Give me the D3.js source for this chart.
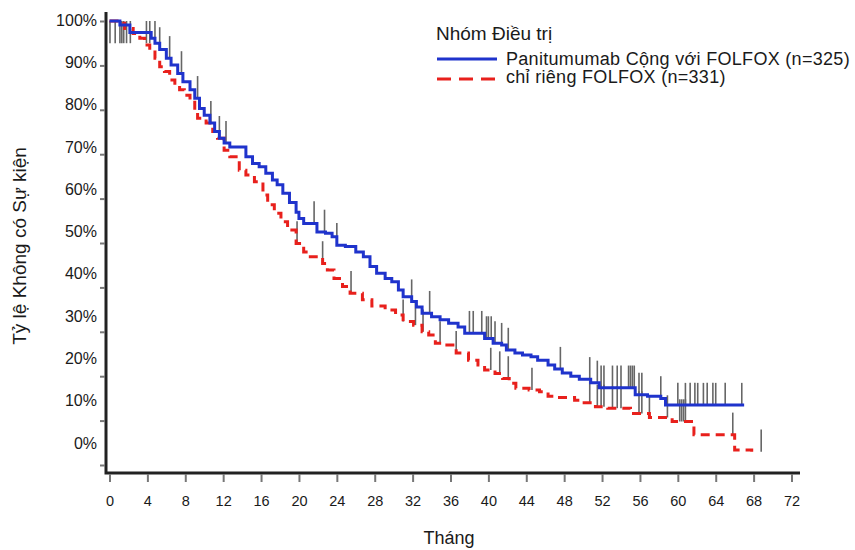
<!DOCTYPE html>
<html>
<head>
<meta charset="utf-8">
<script src="https://cdn.jsdelivr.net/npm/d3@7"></script>
<style>
  html, body { margin: 0; padding: 0; background: #fff; }
  svg { display: block; font-family: "Liberation Sans", Arial, sans-serif; }
</style>
</head>
<body>
<svg id="chart" width="855" height="550"></svg>
<script>
// ---------- DATA ----------
const xTickValues = [0, 4, 8, 12, 16, 20, 24, 28, 32, 36, 40, 44, 48, 52, 56, 60, 64, 68, 72];
const yTickValues = [0, 10, 20, 30, 40, 50, 60, 70, 80, 90, 100];
const yTickLabels = ["0%", "10%", "20%", "30%", "40%", "50%", "60%", "70%", "80%", "90%", "100%"];

const seriesNames = ["Panitumumab Cộng với FOLFOX (n=325)", "chỉ riêng FOLFOX (n=331)"];

// Panitumumab + FOLFOX (months, % event-free)
const blueT = [0, 1.1, 2.15, 4.4, 4.8, 5.3, 6.0, 6.5, 7.2, 7.75, 8.5, 9.0, 9.5, 10.0, 10.6, 11.1, 11.6, 12.1, 12.7, 14.4,
  15.1, 15.8, 16.5, 17.2, 17.7, 18.3, 19.0, 19.7, 20.0, 20.5, 21.9, 22.8, 23.5, 24.0, 24.9, 26.0, 26.8, 27.5, 28.2, 29.1,
  29.8, 30.5, 31.0, 31.9, 32.4, 33.0, 34.0, 34.9, 35.8, 36.8, 37.5, 39.6, 40.5, 41.4, 41.9, 42.8, 43.6, 44.5, 45.2, 46.3,
  47.0, 47.8, 48.7, 49.6, 50.8, 51.7, 55.5, 56.8, 58.2, 58.7, 67.0];
const blueS = [100, 99.1, 97.4, 96.1, 95.0, 93.6, 91.6, 90.1, 88.2, 86.3, 84.5, 82.6, 80.3, 78.8, 77.0, 75.1, 73.6, 72.5, 71.6, 69.4,
  67.9, 67.2, 65.7, 64.2, 63.1, 61.2, 59.1, 56.9, 55.5, 54.4, 52.5, 52.2, 51.4, 49.5, 49.2, 48.0, 46.9, 44.7, 43.2, 42.0,
  41.3, 39.4, 37.9, 36.8, 35.6, 34.2, 33.4, 32.7, 31.9, 31.1, 29.7, 28.5, 27.4, 27.0, 25.9, 25.2, 24.8, 24.4, 23.6, 22.5,
  21.6, 20.7, 20.0, 19.3, 18.5, 17.4, 15.8, 15.5, 15.0, 13.5, 13.5];
const blueCensor = [0.05, 0.6, 1.1, 1.3, 1.5, 1.8, 2.2, 3.9, 4.25, 4.8, 5.3, 6.35, 7.6, 9.3, 10.7, 11.6, 12.3, 21.6, 22.7, 24.0,
  31.9, 33.8, 38.0, 38.4, 39.3, 39.8, 40.0, 40.3, 40.7, 41.4, 42.1, 47.6, 50.7, 51.5, 51.9, 52.2, 53.1, 53.6, 54.0, 54.8,
  55.0, 55.2, 55.4, 55.9, 56.2, 58.2, 60.0, 60.8, 61.3, 61.8, 62.1, 62.7, 63.1, 63.7, 64.0, 65.0, 66.75];

// FOLFOX alone
const redT = [0, 1.1, 1.6, 2.5, 3.2, 3.7, 4.25, 4.8, 5.3, 5.8, 6.35, 6.9, 7.4, 7.9, 8.5, 9.0, 9.3, 10.2, 10.9, 11.4,
  12.1, 12.7, 13.7, 14.4, 15.3, 16.2, 16.7, 17.4, 18.1, 18.8, 19.7, 20.5, 21.2, 22.5, 23.0, 23.7, 24.6, 25.4, 26.7, 27.7,
  29.1, 30.2, 31.0, 32.1, 33.0, 33.7, 34.4, 35.4, 36.6, 37.9, 38.9, 39.6, 40.7, 41.5, 42.2, 42.9, 44.3, 45.4, 46.3, 47.3,
  49.1, 49.9, 51.3, 52.6, 55.0, 57.0, 59.4, 61.7, 66.0, 67.8];
const redS = [100, 99.5, 98.3, 97.2, 96.1, 94.6, 93.5, 91.6, 89.7, 88.6, 86.7, 85.6, 84.5, 83.3, 82.2, 79.9, 78.1, 77.0, 75.1, 73.6,
  70.9, 69.4, 66.4, 65.3, 63.8, 60.8, 58.6, 56.7, 54.8, 52.9, 49.9, 48.0, 46.9, 45.4, 43.9, 42.0, 40.2, 38.7, 37.2, 35.8,
  34.9, 33.8, 32.3, 31.5, 30.0, 29.3, 27.4, 27.0, 25.2, 23.6, 22.5, 21.4, 20.6, 19.5, 18.4, 17.3, 16.9, 16.5, 15.5, 15.2,
  14.6, 14.0, 13.1, 12.8, 11.6, 10.7, 9.8, 6.8, 3.4, 3.0];
const redCensor = [19.8, 22.5, 25.5, 31.0, 32.3, 33.1, 34.9, 36.6, 40.25, 41.2, 42.1, 44.6, 50.7, 51.5, 51.9, 52.2, 53.1, 53.6,
  54.0, 55.9, 56.2, 57.0, 58.9, 60.2, 60.4, 60.6, 60.8, 65.8, 68.8];

// ---------- CHART ----------
const svg = d3.select("#chart");
svg.append("rect").attr("width", 855).attr("height", 550).attr("fill", "#fff");

const x = d3.scaleLinear().domain([0, 72]).range([109.5, 791.5]);
const y = d3.scaleLinear().domain([0, 100]).range([465, 21]);
const yLab = d3.scaleLinear().domain([0, 100]).range([443, 20]);

const blue = "#1f33cc", red = "#e8201c", censorColor = "#666";

// axes lines
svg.append("path")
  .attr("d", "M106,12V473H800")
  .attr("fill", "none").attr("stroke", "#222").attr("stroke-width", 3);

// y tick marks
const yTicks = svg.append("g").attr("transform", "translate(105,0)")
  .call(d3.axisLeft(y).tickValues(yTickValues).tickFormat("").tickSize(5));
yTicks.select(".domain").remove();
yTicks.selectAll("line").attr("stroke", "#777").attr("stroke-width", 2);

// y tick labels
const yLabs = svg.append("g").attr("transform", "translate(105,0)")
  .call(d3.axisLeft(yLab).tickValues(yTickValues).tickFormat((d, i) => yTickLabels[i]).tickSize(0).tickPadding(8));
yLabs.select(".domain").remove();
yLabs.selectAll("text").attr("font-size", 16).attr("fill", "#1a1a1a").attr("font-family", "Liberation Sans, Arial, sans-serif");

// x axis
const xAxis = svg.append("g").attr("transform", "translate(0,474)")
  .call(d3.axisBottom(x).tickValues(xTickValues).tickSize(8).tickPadding(14));
xAxis.select(".domain").remove();
xAxis.selectAll("line").attr("stroke", "#777").attr("stroke-width", 2);
xAxis.selectAll("text").attr("font-size", 14.5).attr("fill", "#1a1a1a").attr("font-family", "Liberation Sans, Arial, sans-serif");

// axis titles
svg.append("text").attr("x", 449).attr("y", 544).attr("text-anchor", "middle")
  .attr("font-size", 18).attr("fill", "#1a1a1a").text("Tháng");
svg.append("text").attr("transform", "translate(26,246) rotate(-90)").attr("text-anchor", "middle")
  .attr("font-size", 19).attr("fill", "#1a1a1a").text("Tỷ lệ Không có Sự kiện");

// step lookup
function stepAt(T, V, t) {
  const i = d3.bisectRight(T, t) - 1;
  return V[Math.max(0, Math.min(i, V.length - 1))];
}

// censor marks
function drawCensors(times, T, V) {
  svg.append("g").selectAll("line").data(times).join("line")
    .attr("x1", d => x(d)).attr("x2", d => x(d))
    .attr("y1", d => { const top = Math.min(stepAt(T, V, d) + 5, 100); return y(top); })
    .attr("y2", d => { const top = Math.min(stepAt(T, V, d) + 5, 100); return y(top - 5); })
    .attr("stroke", censorColor).attr("stroke-width", 1.6);
}
drawCensors(blueCensor, blueT, blueS);
drawCensors(redCensor, redT, redS);

// curves
const line = d3.line().x(d => x(d[0])).y(d => y(d[1])).curve(d3.curveStepAfter);
svg.append("path").datum(redT.map((t, i) => [t, redS[i]]))
  .attr("d", line).attr("fill", "none").attr("stroke", red).attr("stroke-width", 3)
  .attr("stroke-dasharray", "9,6");
svg.append("path").datum(blueT.map((t, i) => [t, blueS[i]]))
  .attr("d", line).attr("fill", "none").attr("stroke", blue).attr("stroke-width", 3);

// legend
const lg = svg.append("g");
lg.append("text").attr("x", 436).attr("y", 40).attr("font-size", 19).attr("fill", "#1a1a1a").text("Nhóm Điều trị");
lg.append("line").attr("x1", 437).attr("x2", 497).attr("y1", 59).attr("y2", 59)
  .attr("stroke", blue).attr("stroke-width", 3);
lg.append("text").attr("x", 506).attr("y", 64.5).attr("font-size", 18).attr("letter-spacing", 0.3)
  .attr("fill", "#1a1a1a").text(seriesNames[0]);
lg.append("line").attr("x1", 437).attr("x2", 497).attr("y1", 79).attr("y2", 79)
  .attr("stroke", red).attr("stroke-width", 3).attr("stroke-dasharray", "14,8");
lg.append("text").attr("x", 506).attr("y", 83).attr("font-size", 18).attr("letter-spacing", 0.3)
  .attr("fill", "#1a1a1a").text(seriesNames[1]);
</script>
</body>
</html>
